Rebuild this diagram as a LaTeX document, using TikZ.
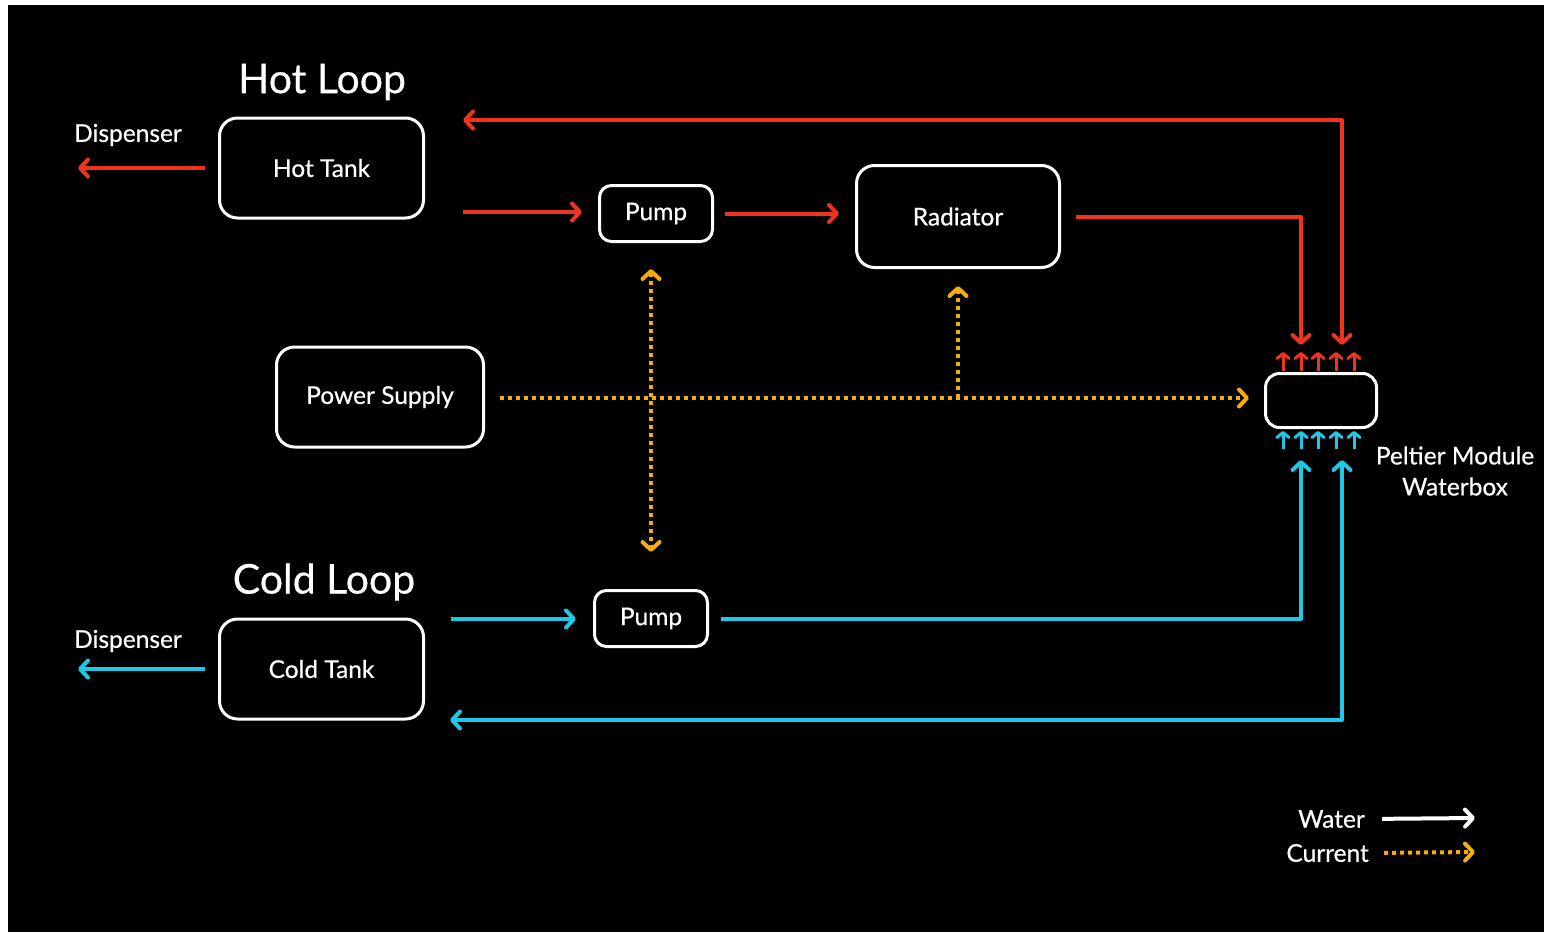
\documentclass[tikz,border=0pt]{standalone}
\usepackage{fontspec}
\setmainfont{Lato}[UprightFeatures={FakeBold=0.5}]
\usetikzlibrary{arrows.meta, positioning}

\definecolor{hotred}{RGB}{238,52,32}
\definecolor{coldcyan}{RGB}{32,200,232}
\definecolor{ampamber}{RGB}{246,172,12}

\begin{document}
\begin{tikzpicture}[
  x=1pt, y=-1pt,
  >={Straight Barb[length=8pt, width=17pt, round]},
  block/.style={draw=white, line width=3pt, rounded corners=18pt, text=white, font=\fontsize{24.5}{29}\selectfont, align=center},
  label/.style={text=white, font=\fontsize{24.5}{29}\selectfont, inner sep=0pt, align=center},
  title/.style={text=white, font=\fontsize{41}{46}\selectfont, inner sep=0pt},
  hotflow/.style={->, line width=4pt, hotred, line join=round},
  coldflow/.style={->, line width=4pt, coldcyan, line join=round},
  water/.style={->, line width=4pt, white},
  current/.style={->, line width=4pt, ampamber, dash pattern=on 4pt off 4pt},
  pin/.style={->, line width=3pt, >={Straight Barb[length=5pt, width=12pt, round]}}
]
% background
\fill[white] (0,0) rectangle (1544,932);
\fill[black] (8,5) rectangle (1544,932);

% hot loop
\node[title] (HotTitle) at (322,82) {Hot Loop};
\node[block, minimum width=204pt, minimum height=100pt] (HotTank) at (321.5,168) {Hot Tank};
\node[label] (HotDispTxt) at (128,135) {Dispenser};
\coordinate (HotDisp) at (78,168);
\coordinate (HotOut) at (463,212);
\coordinate (HotBack) at (463,120);
\node[block, rounded corners=12pt, minimum width=113pt, minimum height=56pt] (HotPump) at (656,213.5) {Pump};
\node[block, minimum width=203pt, minimum height=102pt] (Radiator) at (958,216.5) {Radiator};

% peltier waterbox
\node[block, rounded corners=14pt, minimum width=111pt, minimum height=54pt] (Peltier) at (1321,400.5) {};
\node[label] (PeltierTxt) at (1455,471) {Peltier Module\\[2pt]Waterbox};
\coordinate (HotIn) at (1301,345);
\coordinate (HotRet) at (1342,345);
\coordinate (ColdIn) at (1301,460);
\coordinate (ColdRet) at (1342,460);

% power
\node[block, minimum width=207pt, minimum height=100pt] (Power) at (380,397) {Power Supply};

% cold loop
\node[title] (ColdTitle) at (324,582) {Cold Loop};
\node[block, minimum width=204pt, minimum height=100pt] (ColdTank) at (321.5,669) {Cold Tank};
\node[label] (ColdDispTxt) at (128,641) {Dispenser};
\coordinate (ColdDisp) at (78,669);
\coordinate (ColdOut) at (451,619);
\coordinate (ColdBack) at (450,720);
\node[block, rounded corners=12pt, minimum width=113pt, minimum height=56pt] (ColdPump) at (651,618.5) {Pump};

% legend
\node[label, anchor=east] (WaterKey) at (1365,819) {Water};
\node[label, anchor=east] (CurrentKey) at (1369,853) {Current};
\coordinate (WaterEnd) at (1475,818);
\coordinate (CurrentEnd) at (1475,852);

% water, hot side
\draw[hotflow, shorten <=13pt] (HotTank.west) -- (HotDisp);
\draw[hotflow, shorten >=16pt] (HotOut) -- (HotOut -| HotPump.west);
\draw[hotflow, shorten <=11pt, shorten >=16pt] (HotPump.east) -- (HotPump.east -| Radiator.west);
\draw[hotflow, shorten <=15pt] (Radiator.east) -| (HotIn);
\draw[hotflow, <->] (HotRet) |- (HotBack);

% water, cold side
\draw[coldflow, shorten <=13pt] (ColdTank.west) -- (ColdDisp);
\draw[coldflow, shorten >=17pt] (ColdOut) -- (ColdOut -| ColdPump.west);
\draw[coldflow, shorten <=12pt] (ColdPump.east) -| (ColdIn);
\draw[coldflow, <->] (ColdRet) |- (ColdBack);

% small arrows on the waterbox
\foreach \px in {1283,1301,1318,1336,1354}{
  \draw[pin, hotred] (\px,371) -- (\px,352);
  \draw[pin, coldcyan] (\px,449) -- (\px,431);
}

% current
\draw[current, shorten <=15pt, shorten >=15pt] (Power.east |- 0,398) -- (Peltier.west |- 0,398);
\draw[current, <->, shorten <=26pt, shorten >=37pt] (HotPump.south -| ColdPump.north) -- (ColdPump.north);
\draw[current, shorten >=17pt] (Radiator.south |- 0,398) -- (Radiator.south);

% legend arrows
\draw[water, shorten <=17pt] (WaterKey.east) -- (WaterEnd);
\draw[current, shorten <=15pt] (CurrentKey.east) -- (CurrentEnd);
\end{tikzpicture}
\end{document}
